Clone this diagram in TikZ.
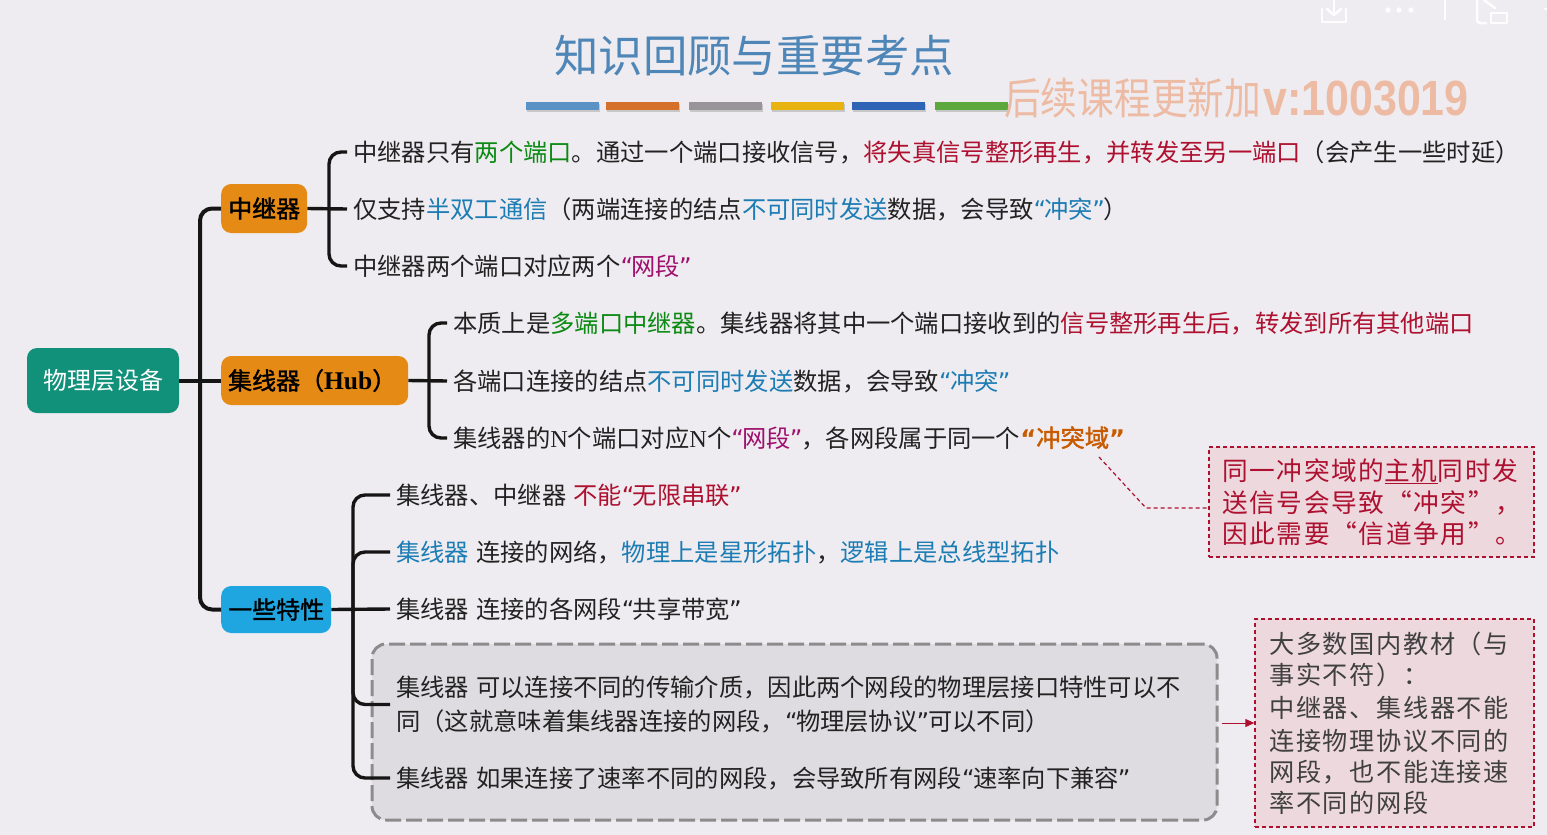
\documentclass[tikz,border=0pt]{standalone}
\usepackage{fontspec}
\setmainfont{Noto Sans CJK SC}
\newfontfamily\qf{DejaVu Sans}
\newfontfamily\serifb{Liberation Serif}
\newfontfamily\arialf{Liberation Sans}
\newfontfamily\medf[FakeBold=1.6]{Noto Sans CJK SC}
\newfontfamily\spaced[LetterSpace=6.4]{Noto Sans CJK SC}
\usetikzlibrary{arrows.meta}
\definecolor{bgc}{HTML}{EEECF0}
\definecolor{cg}{HTML}{0C8A14}
\definecolor{cr}{HTML}{AE1030}
\definecolor{cb}{HTML}{1C7CB4}
\definecolor{cm}{HTML}{A0106E}
\definecolor{co}{HTML}{C85A00}
\definecolor{ink}{HTML}{222222}
\definecolor{linec}{HTML}{151515}
\definecolor{titlec}{HTML}{4F86B8}
\definecolor{wm}{HTML}{EDBBA3}
\definecolor{pinkf}{HTML}{EDD8DE}
\definecolor{rootf}{HTML}{11907A}
\definecolor{orf}{HTML}{E58A14}
\definecolor{blf}{HTML}{1FA6E0}
\definecolor{groupf}{HTML}{DEDCE0}
\newcommand\G[1]{\textcolor{cg}{#1}}
\newcommand\R[1]{\textcolor{cr}{#1}}
\newcommand\B[1]{\textcolor{cb}{#1}}
\newcommand\M[1]{\textcolor{cm}{#1}}
\newcommand\Or[1]{\textcolor{co}{#1}}
\newcommand\LQ{{\qf “}\kern-1.5pt}
\newcommand\RQ{\kern-1pt{\qf ”}\kern-1pt}
\newcommand\gp{\hspace{7pt}}
\tikzset{
  x=1pt,y=-1pt,
  main/.style={rounded corners=10pt,inner sep=0pt,minimum height=49pt,font=\fontsize{24}{24}\selectfont\medf,text=black,anchor=west,align=left},
  item/.style={anchor=west,inner xsep=6pt,inner ysep=0pt,text height=21pt,text depth=3pt,text=ink,font=\fontsize{24.3}{24}\selectfont},
  l1/.style={line width=4pt,draw=linec,rounded corners=12pt},
  l2/.style={line width=3.4pt,draw=linec,rounded corners=12pt},
  note/.style={draw=cr,line width=1.3pt,dash pattern=on 4pt off 3pt,fill=pinkf},
  notet/.style={anchor=west,inner sep=0pt,text height=21pt,text depth=3pt},
  noteone/.style={notet,text=cr,font=\fontsize{25.7}{25}\selectfont\spaced},
  notetwo/.style={notet,text=black!75,font=\fontsize{25.2}{25}\selectfont\spaced},
}
\begin{document}
\begin{tikzpicture}
\useasboundingbox (0,0) rectangle (1547,835);
\fill[bgc] (0,0) rectangle (1547,835);
% title
\node[anchor=center,text=titlec,inner sep=0pt,font=\fontsize{44.4}{44}\selectfont] (title) at (754,56) {知识回顾与重要考点};
% bars
\foreach \a/\b/\c in {526/599/5B92C6,606/679/D4702A,689/762/98949A,771/844/E8B30E,852/925/2F63B5,935/1008/5CA83C}{
  \definecolor{tmpc}{HTML}{\c}
  \fill[black!22] (\a+1,104) rectangle (\b+1,112);
  \fill[tmpc] (\a,102) rectangle (\b,110);
}
% watermark
\node[anchor=west,inner sep=0pt,text=wm,yscale=1.18,font=\fontsize{36.7}{37}\selectfont] (wma) at (1004,98) {后续课程更新加};
\node[anchor=west,inner sep=0pt,text=wm,yscale=1.15,font=\fontsize{43}{43}\selectfont\arialf\bfseries] (wmb) at (1263,99) {v:1003019};
% top right icons
\begin{scope}[draw=white!90!bgc,line width=2.5pt,line cap=round,line join=round]
  \draw (1322,9) -- (1322,22) -- (1346,22) -- (1346,9);
  \draw (1334,0) -- (1334,15);
  \draw (1327,9) -- (1334,15) -- (1341,9);
  \fill[white!90!bgc] (1388,10) circle (2.6pt) (1399,10) circle (2.6pt) (1411,10) circle (2.6pt);
  \draw[line cap=butt,line width=2.4pt] (1445,0) -- (1445,20);
  \draw[rounded corners=3pt] (1477,0) -- (1477,23) -- (1486,23);
  \draw (1491,13) rectangle (1507,23);
  \draw (1484,0) -- (1495,8);
  \draw (1545,9) -- (1547,9);
\end{scope}
% grey group
\node[draw=black!45,line width=3pt,dash pattern=on 16pt off 5pt,rounded corners=14pt,fill=groupf,minimum width=845pt,minimum height=176pt,inner sep=0pt] (group) at (794.5,732) {};
% notes
\node[note,minimum width=325pt,minimum height=110pt,inner sep=0pt] (n1) at (1371.5,502) {};
\node[note,minimum width=279pt,minimum height=208pt,inner sep=0pt] (n2) at (1394.5,723) {};
% main nodes
\node[rounded corners=10pt,inner sep=0pt,minimum width=152pt,minimum height=65pt,fill=rootf,text=white,font=\fontsize{24}{24}\selectfont] (root) at (103,380.5) {物理层设备};
\node[main,fill=orf,minimum width=86pt] (rep) at (221,208.5) {中继器};
\node[main,fill=orf,minimum width=187pt] (hub) at (221,380.5) {集线器（{\fontsize{25.5}{25}\selectfont\serifb\bfseries Hub}）\hspace{5pt}};
\node[main,fill=blf,minimum width=110pt,minimum height=47pt] (spec) at (221,609.5) {一些特性};
% text items
\node[item] (a1) at (347,152) {中继器只有\G{两个端口}。通过一个端口接收信号，\R{将失真信号整形再生，并转发至另一端口}（会产生一些时延）};
\node[item] (a2) at (347,209) {仅支持\B{半双工通信}（两端连接的结点\B{不可同时发送}数据，会导致\B{\LQ 冲突\RQ}）};
\node[item] (a3) at (347,266) {中继器两个端口对应两个\M{\LQ 网段\RQ}};
\node[item] (b1) at (447,323) {本质上是\G{多端口中继器}。集线器将其中一个端口接收到的\R{信号整形再生后，转发到所有其他端口}};
\node[item] (b2) at (447,381) {各端口连接的结点\B{不可同时发送}数据，会导致\B{\LQ 冲突\RQ}};
\node[item] (b3) at (447,438) {集线器的{\serifb N}个端口对应{\serifb N}个\M{\LQ 网段\RQ}，各网段属于同一个\Or{{\qf\bfseries “}{\medf 冲突域}{\qf\bfseries ”}}};
\node[item] (c1) at (390,495) {集线器、中继器\gp\R{不能\LQ 无限串联\RQ}};
\node[item] (c2) at (390,552) {\B{集线器}\gp 连接的网络，\B{物理上是星形拓扑}，\B{逻辑上是总线型拓扑}};
\node[item] (c3) at (390,609) {集线器\gp 连接的各网段\LQ 共享带宽\RQ};
\node[item,text height=,text depth=,align=left,font=\fontsize{24.3}{34}\selectfont] (c4) at (390,704.5) {集线器\gp 可以连接不同的传输介质，因此两个网段的物理层接口特性可以不\\同（这就意味着集线器连接的网段，\LQ 物理层协议\RQ 可以不同）};
\node[item] (c5) at (390,778) {集线器\gp 如果连接了速率不同的网段，会导致所有网段\LQ 速率向下兼容\RQ};
% connectors
\coordinate (tj) at (200,380.5);
\coordinate (ja) at (329,209);
\coordinate (jb) at (429,381);
\coordinate (jc) at (353,609);
\draw[l1] (root.east) -- (hub.west);
\draw[l1] (rep.west) -| (tj) |- (spec.west);
\draw[l2] (rep.east) -- (a2.west);
\draw[l2] (a1.west) -| (ja) |- (a3.west);
\draw[l2] (hub.east) -- (b2.west);
\draw[l2] (b1.west) -| (jb) |- (b3.west);
\draw[l2] (spec.east) -- (c3.west);
\draw[l2] (c1.west) -| (jc) |- (c5.west);
\draw[l2] (c2.west) -| (jc);
\draw[l2] (c4.west) -| (jc);
% note connector
\coordinate (d0) at (1099,457);
\coordinate (d1) at (1146,508);
\coordinate (d2) at (1209,508);
\draw[draw=cr,line width=1.2pt,dash pattern=on 4pt off 3pt] (d0) -- (d1) -- (d2);
\coordinate (g1) at (1222,723);
\draw[draw=cr,line width=1pt,-{Triangle[length=9pt,width=8pt]}] (g1) -- (n2.west);
% note text
\node[noteone] (n1a) at (1222,471) {同一冲突域的\underline{主机}同时发};
\node[noteone] (n1b) at (1222,503) {送信号会导致“冲突”，};
\node[noteone] (n1c) at (1222,534) {因此需要“信道争用”。};
\foreach \nm/\yy/\tx in {n2a/644/大多数国内教材（与,n2b/675/事实不符）：,n2c/708/中继器、集线器不能,n2d/741/连接物理协议不同的,n2e/772/网段，也不能连接速,n2f/803/率不同的网段}{
  \node[notetwo] (\nm) at (1269,\yy) {\tx};
}
\end{tikzpicture}
\end{document}
